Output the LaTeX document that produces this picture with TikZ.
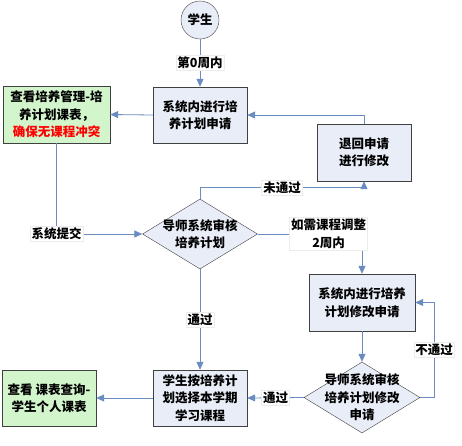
\documentclass[tikz,border=0pt]{standalone}
\usepackage{fontspec}
\setmainfont{Noto Sans CJK SC}
\usetikzlibrary{shapes.geometric, arrows.meta}
\definecolor{boxfill}{HTML}{E8EDF7}
\definecolor{greenfill}{HTML}{D3F5CC}
\definecolor{flowline}{HTML}{6A8CC0}
\definecolor{boxedge}{HTML}{404040}

\begin{document}
\begin{tikzpicture}[x=1pt, y=-1pt,
  every node/.style={font=\fontsize{12.5}{17.5}\selectfont\bfseries, align=center},
  box/.style={draw=boxedge, fill=boxfill, minimum width=94pt, minimum height=56pt, inner sep=1pt},
  greenbox/.style={box, fill=greenfill},
  decision/.style={diamond, draw=boxedge, fill=boxfill, inner sep=0pt, minimum width=115pt, minimum height=70pt},
  flow/.style={draw=flowline, thick, -{Triangle[length=8pt, width=7pt]}},
  lbl/.style={fill=white, draw=gray!15, inner sep=1.5pt}]
\useasboundingbox (0,0) rectangle (462,445);
\node[circle, draw=boxedge, fill=boxfill, minimum size=38pt, inner sep=0pt] (stu) at (200,20) {学生};
\node[box] (apply) at (200,115) {系统内进行培\\养计划申请};
\node[greenbox, minimum width=107pt, minimum height=57pt] (view) at (56.5,114.5) {查看培养管理-培\\养计划课表，\\\textcolor{red}{确保无课程冲突}};
\node[box, minimum height=57pt] (back) at (364,152.5) {退回申请\\进行修改};
\node[decision, label={[align=center]center:导师系统审核\\培养计划}] (chk) at (200,234) {};
\node[box, minimum width=106pt, minimum height=57pt] (modify) at (362,302.5) {系统内进行培养\\计划修改申请};
\node[decision, minimum width=116pt, minimum height=71pt, label={[align=center]center:导师系统审核\\培养计划修改\\申请}] (chkmod) at (362,397.5) {};
\node[box] (select) at (200,398) {学生按培养计\\划选择本学期\\学习课程};
\node[greenbox] (sched) at (49,398) {查看 课表查询-\\学生个人课表};

\draw[flow] (stu) -- (apply) node[lbl, midway] {第0周内};
\draw[flow] (apply.west) -- (view.east);
\draw[flow] (back.north) |- (apply.east);
\draw[flow] (view.south) |- (chk.west) node[lbl, pos=0.5] {系统提交};
\draw[flow] (chk.north) -- ++(0,-11) -| (back.south) node[lbl, pos=0.25] {未通过};
\draw[flow] (chk.east) -| (modify.north) node[lbl, pos=0.34] {如需课程调整\\2周内};
\draw[flow] (modify) -- (chkmod);
\draw[flow] (chkmod.east) -- ++(14,0) |- (modify.east) node[lbl, pos=0.25] {不通过};
\draw[flow] (chkmod.west) -- (select.east) node[lbl, midway] {通过};
\draw[flow] (chk.south) -- (select.north) node[lbl, midway] {通过};
\draw[flow] (select.west) -- (sched.east);
\end{tikzpicture}
\end{document}
